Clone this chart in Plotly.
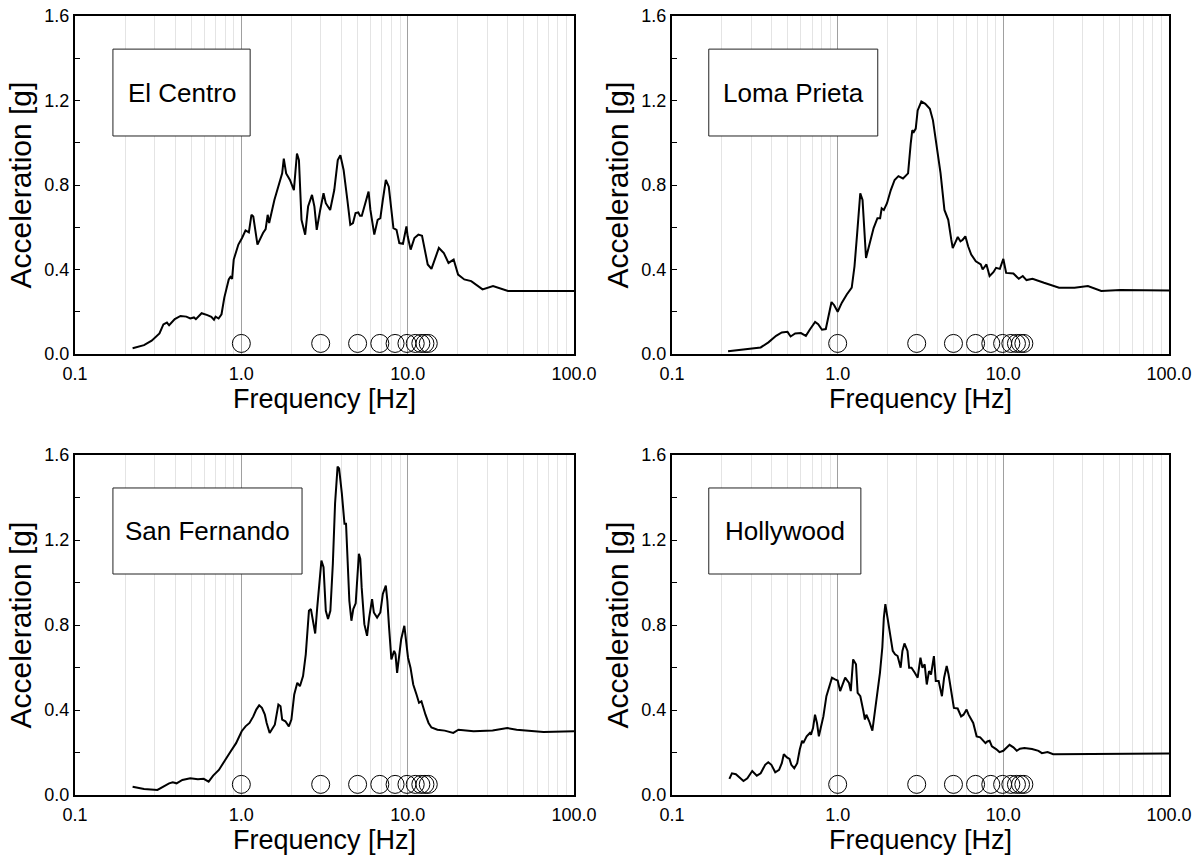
import plotly.graph_objects as go

# ---------------- data ----------------
titles = ["El Centro", "Loma Prieta", "San Fernando", "Hollywood"]

el_centro_f = [0.222, 0.26, 0.289, 0.322, 0.34, 0.357, 0.368, 0.398, 0.431, 0.467, 0.493, 0.519, 0.533, 0.577,
               0.625, 0.66, 0.685, 0.70, 0.73, 0.76, 0.79, 0.84, 0.86, 0.88, 0.90, 0.96, 1.01, 1.06, 1.11, 1.15,
               1.18, 1.25, 1.35, 1.40, 1.44, 1.47, 1.58, 1.67, 1.76, 1.80, 1.86, 1.96, 2.07, 2.16, 2.22, 2.30,
               2.42, 2.52, 2.66, 2.75, 2.84, 2.98, 3.12, 3.22, 3.42, 3.62, 3.80, 3.94, 4.12, 4.34, 4.52, 4.69,
               4.86, 5.05, 5.17, 5.30, 5.59, 5.82, 5.97, 6.30, 6.60, 6.85, 7.09, 7.39, 7.70, 7.98, 8.21, 8.57,
               8.91, 9.37, 9.64, 9.83, 10.0, 10.42, 10.98, 11.6, 12.2, 12.64, 13.2, 13.9, 14.6, 15.4, 16.5, 17.6,
               18.9, 20.1, 21.9, 24.1, 28.2, 32.6, 40.1, 58.0, 100.0]
el_centro_a = [0.027, 0.042, 0.063, 0.097, 0.14, 0.149, 0.136, 0.165, 0.18, 0.177, 0.168, 0.173, 0.165, 0.193,
               0.184, 0.176, 0.162, 0.177, 0.168, 0.188, 0.267, 0.353, 0.365, 0.356, 0.447, 0.518, 0.549, 0.585,
               0.576, 0.659, 0.651, 0.518, 0.573, 0.591, 0.659, 0.62, 0.729, 0.792, 0.855, 0.925, 0.855, 0.824,
               0.776, 0.949, 0.918, 0.635, 0.565, 0.698, 0.753, 0.698, 0.588, 0.682, 0.761, 0.714, 0.682, 0.776,
               0.918, 0.941, 0.871, 0.729, 0.612, 0.62, 0.667, 0.67, 0.654, 0.654, 0.714, 0.769, 0.682, 0.565,
               0.635, 0.643, 0.729, 0.824, 0.792, 0.698, 0.596, 0.588, 0.525, 0.522, 0.573, 0.604, 0.557, 0.494,
               0.549, 0.565, 0.56, 0.494, 0.424, 0.403, 0.447, 0.502, 0.478, 0.431, 0.447, 0.376, 0.353, 0.345,
               0.306, 0.322, 0.298, 0.298, 0.298]

loma_prieta_f = [0.218, 0.263, 0.309, 0.343, 0.382, 0.425, 0.46, 0.498, 0.52, 0.554, 0.6, 0.643, 0.678, 0.731,
                 0.763, 0.804, 0.848, 0.885, 0.918, 0.953, 1.0, 1.06, 1.135, 1.216, 1.264, 1.312, 1.369, 1.413,
                 1.483, 1.563, 1.648, 1.738, 1.804, 1.844, 1.90, 1.985, 2.093, 2.207, 2.327, 2.48, 2.66, 2.76,
                 2.82, 2.88, 2.96, 3.04, 3.2, 3.38, 3.6, 3.76, 3.96, 4.18, 4.41, 4.65, 4.85, 4.95, 5.11, 5.31,
                 5.51, 5.69, 5.90, 6.13, 6.4, 6.82, 7.31, 7.5, 7.91, 8.26, 8.71, 9.04, 9.53, 10.0, 10.4, 11.5,
                 12.4, 13.1, 13.8, 15.0, 17.6, 21.7, 26.9, 32.4, 39.0, 50.9, 100.0]
loma_prieta_a = [0.0125, 0.02, 0.024, 0.031, 0.055, 0.086, 0.102, 0.105, 0.083, 0.097, 0.099, 0.086, 0.115,
                 0.152, 0.141, 0.115, 0.118, 0.188, 0.246, 0.231, 0.2, 0.243, 0.282, 0.314, 0.416, 0.573, 0.761,
                 0.729, 0.455, 0.525, 0.596, 0.643, 0.643, 0.69, 0.682, 0.714, 0.776, 0.824, 0.842, 0.831, 0.855,
                 0.996, 1.059, 1.051, 1.067, 1.153, 1.195, 1.184, 1.161, 1.106, 0.98, 0.855, 0.682, 0.635, 0.541,
                 0.502, 0.525, 0.554, 0.533, 0.541, 0.557, 0.51, 0.471, 0.439, 0.424, 0.4, 0.424, 0.369, 0.387,
                 0.408, 0.403, 0.45, 0.384, 0.381, 0.356, 0.369, 0.35, 0.356, 0.337, 0.314, 0.314, 0.322, 0.298,
                 0.303, 0.301]

san_fernando_f = [0.222, 0.26, 0.313, 0.34, 0.368, 0.387, 0.408, 0.442, 0.493, 0.548, 0.594, 0.636, 0.677, 0.733,
                  0.794, 0.862, 0.93, 1.005, 1.06, 1.12, 1.18, 1.23, 1.28, 1.33, 1.385, 1.42, 1.48, 1.54, 1.59,
                  1.67, 1.72, 1.76, 1.84, 1.93, 2.0, 2.08, 2.17, 2.25, 2.35, 2.44, 2.55, 2.62, 2.7, 2.78, 2.86,
                  2.96, 3.03, 3.12, 3.22, 3.32, 3.43, 3.55, 3.66, 3.79, 3.87, 4.02, 4.17, 4.26, 4.34, 4.46, 4.59,
                  4.71, 4.87, 5.09, 5.19, 5.29, 5.49, 5.7, 5.87, 6.11, 6.26, 6.55, 6.85, 7.09, 7.39, 7.55, 7.73,
                  7.98, 8.29, 8.45, 8.64, 8.89, 9.14, 9.55, 9.75, 10.05, 10.4, 10.8, 11.3, 11.7, 12.1, 12.4, 12.8,
                  13.35, 13.9, 15.1, 16.7, 18.8, 20.2, 24.9, 32.4, 39.7, 45.2, 65.6, 100.0]
san_fernando_a = [0.039, 0.028, 0.024, 0.039, 0.055, 0.06, 0.055, 0.071, 0.079, 0.074, 0.076, 0.063, 0.091, 0.118,
                  0.158, 0.205, 0.244, 0.3, 0.323, 0.339, 0.37, 0.402, 0.422, 0.41, 0.378, 0.339, 0.292, 0.315,
                  0.331, 0.426, 0.418, 0.355, 0.347, 0.323, 0.355, 0.473, 0.528, 0.512, 0.56, 0.662, 0.867, 0.875,
                  0.82, 0.76, 0.883, 1.009, 1.103, 1.072, 0.867, 0.828, 0.867, 1.088, 1.371, 1.545, 1.537, 1.419,
                  1.277, 1.277, 1.151, 0.914, 0.82, 0.875, 0.902, 1.135, 1.111, 0.977, 0.804, 0.749, 0.835, 0.922,
                  0.859, 0.835, 0.859, 0.946, 0.985, 0.914, 0.788, 0.638, 0.678, 0.662, 0.575, 0.662, 0.733, 0.796,
                  0.725, 0.646, 0.599, 0.52, 0.473, 0.434, 0.441, 0.41, 0.378, 0.339, 0.318, 0.307, 0.303, 0.292,
                  0.307, 0.3, 0.304, 0.315, 0.307, 0.296, 0.3]

hollywood_f = [0.222, 0.23, 0.243, 0.26, 0.27, 0.285, 0.305, 0.325, 0.343, 0.365, 0.381, 0.398, 0.42, 0.443,
               0.46, 0.473, 0.494, 0.512, 0.525, 0.547, 0.57, 0.59, 0.61, 0.62, 0.65, 0.68, 0.69, 0.71, 0.73,
               0.75, 0.77, 0.79, 0.82, 0.855, 0.89, 0.924, 0.963, 1.0, 1.035, 1.07, 1.11, 1.17, 1.2, 1.24, 1.29,
               1.32, 1.37, 1.43, 1.46, 1.49, 1.55, 1.62, 1.67, 1.74, 1.80, 1.86, 1.9, 1.94, 2.01, 2.07, 2.15,
               2.22, 2.3, 2.4, 2.46, 2.53, 2.64, 2.7, 2.79, 2.92, 3.04, 3.16, 3.25, 3.35, 3.45, 3.56, 3.66, 3.81,
               3.91, 4.07, 4.26, 4.39, 4.55, 4.67, 4.88, 5.03, 5.3, 5.56, 5.75, 6.0, 6.17, 6.58, 6.9, 7.25, 7.8,
               8.0, 8.26, 8.53, 9.04, 9.48, 10.0, 10.4, 10.9, 11.5, 12.05, 12.6, 13.4, 14.9, 16.3, 17.1, 18.5,
               20.0, 28.3, 37.0, 100.0]
hollywood_a = [0.076, 0.102, 0.098, 0.079, 0.066, 0.079, 0.113, 0.091, 0.102, 0.142, 0.154, 0.142, 0.107, 0.118,
               0.15, 0.192, 0.177, 0.17, 0.142, 0.126, 0.15, 0.213, 0.255, 0.244, 0.276, 0.292, 0.284, 0.315,
               0.378, 0.339, 0.276, 0.315, 0.37, 0.465, 0.512, 0.552, 0.544, 0.539, 0.489, 0.52, 0.552, 0.528,
               0.489, 0.638, 0.615, 0.481, 0.465, 0.394, 0.355, 0.378, 0.347, 0.303, 0.378, 0.489, 0.575, 0.694,
               0.835, 0.898, 0.82, 0.772, 0.678, 0.662, 0.654, 0.599, 0.678, 0.713, 0.678, 0.599, 0.599, 0.575,
               0.552, 0.646, 0.599, 0.615, 0.52, 0.583, 0.567, 0.654, 0.536, 0.536, 0.465, 0.552, 0.607, 0.567,
               0.465, 0.41, 0.407, 0.37, 0.378, 0.402, 0.378, 0.339, 0.276, 0.271, 0.244, 0.252, 0.255, 0.229,
               0.216, 0.202, 0.208, 0.221, 0.236, 0.224, 0.208, 0.218, 0.221, 0.216, 0.208, 0.197, 0.202, 0.192,
               0.192, 0.195, 0.195]

mode_freqs = [1.0, 3.0, 5.0, 6.8, 8.4, 9.9, 11.1, 12.0, 12.7, 13.3]
mode_level = 0.05

x_tickvals = [0.1, 1, 10, 100]
x_ticktext = ["0.1", "1.0", "10.0", "100.0"]
x_minor = [0.2, 0.3, 0.4, 0.5, 0.6, 0.7, 0.8, 0.9, 2, 3, 4, 5, 6, 7, 8, 9, 20, 30, 40, 50, 60, 70, 80, 90]
y_tickvals = [0.0, 0.4, 0.8, 1.2, 1.6]
y_ticktext = ["0.0", "0.4", "0.8", "1.2", "1.6"]

series = [(el_centro_f, el_centro_a), (loma_prieta_f, loma_prieta_a),
          (san_fernando_f, san_fernando_a), (hollywood_f, hollywood_a)]

# ---------------- layout ----------------
W, H = 1201, 858
x_doms = [[75 / W, 574 / W], [672 / W, 1169 / W]]
y_doms = [[1 - 354 / H, 1 - 16 / H], [1 - 795 / H, 1 - 455 / H]]
boxes = [(0.076, 0.351), (0.074, 0.414), (0.076, 0.455), (0.074, 0.380)]
box_y = [(0.645, 0.902), (0.645, 0.902), (0.650, 0.903), (0.650, 0.903)]

FONT = "Liberation Sans, Arial, sans-serif"
fig = go.Figure()
shapes = []
annotations = []

for i, (f, a) in enumerate(series):
    k = "" if i == 0 else str(i + 1)
    xa, ya = "x" + k, "y" + k
    fig.add_trace(go.Scatter(x=f, y=a, mode="lines", line=dict(color="black", width=2),
                             xaxis=xa, yaxis=ya, showlegend=False, hoverinfo="skip"))
    fig.add_trace(go.Scatter(x=mode_freqs, y=[mode_level] * len(mode_freqs), mode="markers",
                             marker=dict(symbol="circle-open", size=18, color="black", line=dict(width=1)),
                             xaxis=xa, yaxis=ya, showlegend=False, hoverinfo="skip"))
    col, row = i % 2, i // 2
    fig.layout["xaxis" + k] = dict(
        type="log", range=[-1, 2], domain=x_doms[col], anchor=ya,
        tickvals=x_tickvals, ticktext=x_ticktext, ticks="", showgrid=True, gridcolor="#a0a0a0",
        gridwidth=1, minor=dict(tickvals=x_minor, showgrid=True, gridcolor="#e4e4e4", gridwidth=1, ticks=""),
        showline=True, linecolor="black", linewidth=2, mirror=True, zeroline=False,
        tickfont=dict(family=FONT, size=18, color="black"), ticklabelstandoff=2,
        title=dict(text="Frequency [Hz]", font=dict(family=FONT, size=27, color="black"), standoff=0),
        automargin=False)
    fig.layout["yaxis" + k] = dict(
        range=[0, 1.6], domain=y_doms[row], anchor=xa,
        tickvals=y_tickvals, ticktext=y_ticktext, ticks="inside", ticklen=5, tickcolor="black",
        minor=dict(dtick=0.2, ticks="inside", ticklen=5, tickcolor="black", showgrid=False),
        showgrid=False, showline=True, linecolor="black", linewidth=2, mirror=True, zeroline=False,
        tickfont=dict(family=FONT, size=18, color="black"),
        title=dict(text="Acceleration [g]", font=dict(family=FONT, size=30, color="black"), standoff=4),
        automargin=False)
    shapes.append(dict(type="rect", xref=f"{xa} domain", yref=f"{ya} domain",
                       x0=boxes[i][0], x1=boxes[i][1], y0=box_y[i][0], y1=box_y[i][1],
                       line=dict(color="#222222", width=1), fillcolor="white", layer="above"))
    annotations.append(dict(text=titles[i], xref=f"{xa} domain", yref=f"{ya} domain",
                            x=(boxes[i][0] + boxes[i][1]) / 2, y=(box_y[i][0] + box_y[i][1]) / 2,
                            showarrow=False, xanchor="center", yanchor="middle",
                            font=dict(family=FONT, size=26, color="black")))

fig.update_layout(width=W, height=H, margin=dict(l=0, r=0, t=0, b=0),
                  paper_bgcolor="white", plot_bgcolor="white",
                  shapes=shapes, annotations=annotations)

fig.write_html("out.html")
